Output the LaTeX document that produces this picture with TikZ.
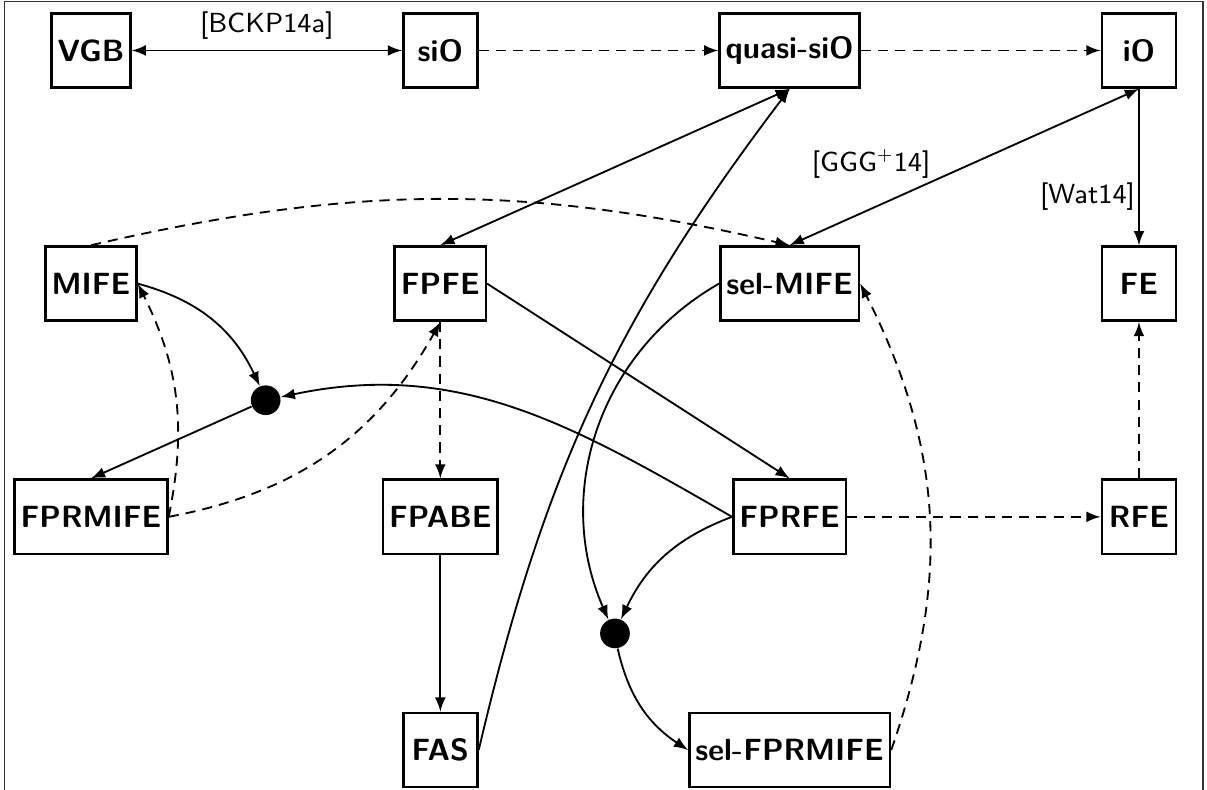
\documentclass[tikz,border=0pt]{standalone}
\usepackage{tikz}
\usetikzlibrary{shapes.geometric, arrows, positioning}
\tikzstyle{block} = [rectangle, minimum width=0.85cm, minimum height=0.85cm, inner xsep=2pt, text centered, draw=black, line width=0.85pt, font=\sffamily\bfseries]
\tikzstyle{dot} = [circle, fill=black, inner sep=0pt, minimum size=0.34cm]
\tikzstyle{arrow} = [->,>=latex, line width=0.6pt]
\tikzstyle{dasharrow} = [->,>=latex, line width=0.6pt, dash pattern=on 3.3pt off 2.3pt]
\tikzstyle{twoway} = [<->,>=latex, line width=0.6pt]
\tikzstyle{cite} = [font=\sffamily\small]

\begin{document}
\begin{tikzpicture}[node distance=1cm]
	\useasboundingbox (-1.042,-8.457) rectangle (12.779,0.578);
	\draw [black!80, line width=0.5pt] (-0.99,-8.7) |- (12.733,0.561) -- (12.733,-8.7);

	\node (vgb) [block] at (0,0) {VGB};
	\node (sio) [block] at (4,0) {siO};
	\node (quasi) [block] at (8,0) {quasi-siO};
	\node (io) [block] at (12,0) {iO};
	\node (mife) [block] at (0,-2.67) {MIFE};
	\node (fpfe) [block] at (4,-2.67) {FPFE};
	\node (selmife) [block] at (8,-2.67) {sel-MIFE};
	\node (fe) [block] at (12,-2.67) {FE};
	\node (fprmife) [block] at (0,-5.34) {FPRMIFE};
	\node (fpabe) [block] at (4,-5.34) {FPABE};
	\node (fprfe) [block] at (8,-5.34) {FPRFE};
	\node (rfe) [block] at (12,-5.34) {RFE};
	\node (fas) [block] at (4,-8.01) {FAS};
	\node (selfprmife) [block] at (8,-8.01) {sel-FPRMIFE};
	\node (dotl) [dot] at (2,-4.005) {};
	\node (dotr) [dot] at (6,-6.675) {};

	\draw [twoway] (vgb) -- node [above, cite] {[BCKP14a]} (sio);
	\draw [dasharrow] (sio) -- (quasi);
	\draw [dasharrow] (quasi) -- (io);
	\draw [arrow] (io) -- node [left, pos=0.69, inner sep=1pt, cite] {[Wat14]} (fe);
	\draw [twoway] (selmife.north) -- node [above left, pos=0.41, inner sep=0.5pt, cite] {[GGG\textsuperscript{+}14]} (io.south);
	\draw [twoway] (fpfe.north) -- (quasi.south);
	\draw [arrow] (fas.east) to [bend left=12] (quasi.south);
	\draw [dasharrow] (mife.north) to [bend left=13] (selmife.north);
	\draw [arrow] (mife.east) to [bend left=25] (dotl);
	\draw [arrow] (dotl) -- (fprmife.north);
	\draw [arrow] (fprfe.west) to [out=150, in=12] (dotl);
	\draw [dasharrow] (fprmife.east) to [bend right=19] (mife.east);
	\draw [dasharrow] (fprmife.east) to [bend right=25] (fpfe.south);
	\draw [dasharrow] (fpfe) -- (fpabe);
	\draw [arrow] (fpfe.east) -- (fprfe.north);
	\draw [arrow] (fpabe) -- (fas);
	\draw [arrow] (selmife.west) to [bend right=42] (dotr);
	\draw [arrow] (fprfe.west) to [bend right=22] (dotr);
	\draw [arrow] (dotr) to [bend right=22] (selfprmife.west);
	\draw [dasharrow] (selfprmife.east) to [bend right=23] (selmife.east);
	\draw [dasharrow] (fprfe) -- (rfe);
	\draw [dasharrow] (rfe) -- (fe);
\end{tikzpicture}
\end{document}
